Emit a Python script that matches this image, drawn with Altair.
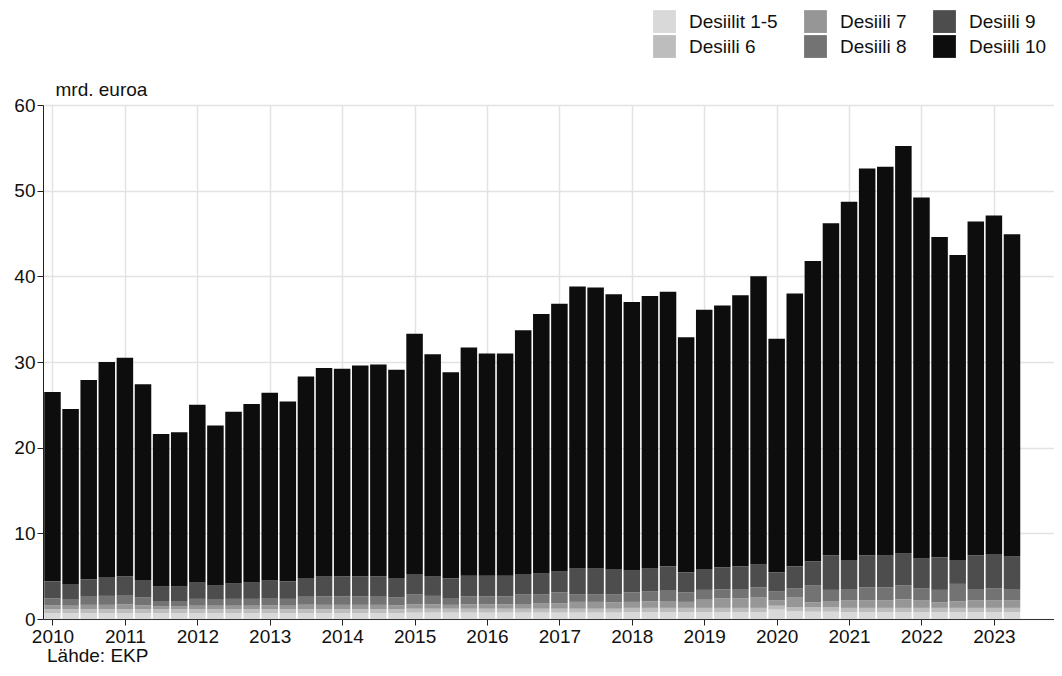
import altair as alt
import pandas as pd

years = list(range(2010, 2024))
quarters_per_year = [4] * 13 + [2]

series_names = ["Desiilit 1-5", "Desiili 6", "Desiili 7", "Desiili 8", "Desiili 9", "Desiili 10"]
series_colors = ["#d9d9d9", "#bdbdbd", "#969696", "#737373", "#4d4d4d", "#0d0d0d"]

d15 = [0.7] * 20 + [0.75] * 12 + [0.8] * 8 + [1.1, 0.9, 0.85, 0.85] + [0.8] * 10
d6 = [0.45] * 32 + [0.5] * 8 + [0.45, 0.5, 0.5, 0.5] + [0.5] * 10
d7 = [0.45, 0.4, 0.5, 0.5, 0.55, 0.45, 0.35, 0.35, 0.4, 0.4, 0.4, 0.4,
      0.45, 0.4, 0.5, 0.5, 0.5, 0.5, 0.5, 0.45, 0.5, 0.5, 0.45, 0.5,
      0.5, 0.5, 0.55, 0.6, 0.65, 0.8, 0.8, 0.75, 0.7, 0.75, 0.8, 0.7,
      0.95, 1.1, 1.1, 1.2, 0.65, 1.1, 0.6, 0.75, 0.9, 0.9, 0.9, 1.0,
      0.85, 0.65, 0.75, 0.9, 0.9, 0.9]
d8 = [0.8, 0.7, 0.95, 1.05, 1.1, 0.9, 0.6, 0.6, 0.8, 0.7, 0.8, 0.8,
      0.85, 0.8, 0.95, 1.0, 1.0, 1.0, 0.95, 0.9, 1.15, 1.0, 0.8, 0.95,
      0.95, 0.95, 1.1, 1.1, 1.25, 0.9, 0.9, 0.9, 1.1, 1.15, 1.2, 1.1,
      1.15, 1.05, 1.1, 1.2, 1.0, 1.1, 1.95, 1.3, 1.3, 1.5, 1.5, 1.65,
      1.45, 1.45, 2.05, 1.3, 1.4, 1.3]
d9 = [2.0, 1.85, 2.0, 2.2, 2.15, 2.05, 1.7, 1.7, 1.95, 1.7, 1.8, 1.95,
      2.05, 2.05, 2.2, 2.35, 2.3, 2.3, 2.35, 2.3, 2.4, 2.3, 2.3, 2.4,
      2.4, 2.4, 2.4, 2.45, 2.45, 3.05, 3.05, 3.0, 2.6, 2.75, 2.85, 2.35,
      2.45, 2.55, 2.65, 2.7, 2.25, 2.55, 2.8, 4.0, 3.4, 3.7, 3.75, 3.75,
      3.5, 3.8, 2.8, 3.9, 4.0, 3.8]
d10 = [22.1, 20.4, 23.3, 25.1, 25.55, 22.85, 17.8, 18.0, 20.7, 18.65, 20.05, 20.8,
       21.9, 21.0, 23.5, 24.3, 24.25, 24.65, 24.75, 24.3, 28.05, 25.9, 24.05, 26.65,
       25.95, 25.95, 28.45, 30.25, 31.25, 32.85, 32.75, 32.05, 31.3, 31.75, 32.05, 27.45,
       30.25, 30.6, 31.65, 33.6, 27.25, 31.85, 35.1, 38.8, 41.8, 45.2, 45.35, 47.5,
       42.1, 37.4, 35.6, 39.0, 39.5, 37.6]

t_values = []
for y, nq in zip(years, quarters_per_year):
    for q in range(nq):
        t_values.append(y + q / 4)

rows = []
for k, (name, vals) in enumerate(zip(series_names, [d15, d6, d7, d8, d9, d10])):
    for t, v in zip(t_values, vals):
        rows.append({"t": t, "series": name, "k": k, "value": v})
df = pd.DataFrame(rows)

FONT = "Liberation Sans"
FS = 19

bars = alt.Chart(df).transform_stack(
    stack="value", groupby=["t"], as_=["v0", "v1"],
    sort=[alt.SortField("k", order="ascending")]
).transform_calculate(
    x0="datum.t - 0.114", x1="datum.t + 0.114"
).mark_bar().encode(
    x=alt.X("x0:Q",
            scale=alt.Scale(domain=[2009.869, 2023.83], nice=False, zero=False),
            axis=alt.Axis(values=years, format="d", title=None, labelFontSize=FS,
                          labelFont=FONT, labelColor="#111", tickSize=6, tickColor="#222",
                          domainColor="#333", labelPadding=2, grid=True,
                          gridColor="#e3e3e3", gridWidth=1.5, labelFlush=False)),
    x2="x1:Q",
    y=alt.Y("v0:Q",
            scale=alt.Scale(domain=[0, 60], nice=False),
            axis=alt.Axis(values=[0, 10, 20, 30, 40, 50, 60], title="mrd. euroa",
                          titleAngle=0, titleX=12, titleY=-10, titleAlign="left",
                          titleBaseline="alphabetic", titleFont=FONT, titleFontSize=FS,
                          titleFontWeight="normal", titleColor="#111",
                          labelFontSize=FS, labelFont=FONT, labelColor="#111",
                          tickSize=6, tickColor="#222", domainColor="#222",
                          labelPadding=2, grid=True, gridColor="#e3e3e3", gridWidth=1.5)),
    y2="v1:Q",
    color=alt.Color("series:N",
                    scale=alt.Scale(domain=series_names, range=series_colors),
                    legend=alt.Legend(title=None, orient="none", legendX=610, legendY=-95,
                                      columns=3, symbolType="square", symbolSize=520,
                                      symbolStrokeWidth=0, labelFont=FONT, labelFontSize=FS,
                                      labelColor="#111", labelOffset=13, columnPadding=26,
                                      rowPadding=2, gridAlign="each", labelLimit=300)),
)

source = alt.Chart(pd.DataFrame({"s": ["Lähde: EKP"]})).mark_text(
    align="left", baseline="alphabetic", fontSize=FS, font=FONT, color="#111"
).encode(x=alt.value(4), y=alt.value(557), text="s:N")

chart = alt.layer(bars, source).properties(
    width=1011, height=514,
    autosize=alt.AutoSizeParams(type="none"),
    padding={"left": 35, "top": 97, "right": 0, "bottom": 49},
    background="white",
).configure_view(stroke=None)

chart.save("out.html", embed_options={"renderer": "svg", "actions": False})
